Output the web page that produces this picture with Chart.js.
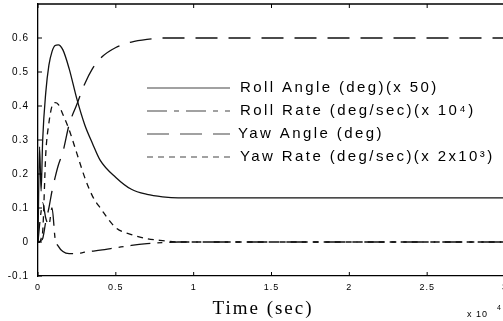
<!DOCTYPE html>
<html lang="en">
<head>
  <meta charset="UTF-8">
  <title>Roll / Yaw response</title>
  <script src="https://cdn.jsdelivr.net/npm/chart.js"></script>
  <style>
    html, body {
      margin: 0;
      padding: 0;
      background: #fff;
      overflow: hidden;
    }
    #wrap {
      width: 503px;
      height: 321px;
      overflow: hidden;
    }
  </style>
</head>
<body>
  <div id="wrap">
    <canvas id="respChart" width="512" height="321"></canvas>
  </div>
  <script>
    // time axis (x 10^4 sec)
    const times = [0, 0.01, 0.02, 0.03, 0.05, 0.07, 0.09, 0.11, 0.13, 0.16, 0.2, 0.25, 0.3, 0.35, 0.4, 0.5, 0.6, 0.7, 0.8, 0.9, 1, 1.5, 2, 2.5, 3];

    const rollAngle = [0, 0.28, 0.15, 0.3, 0.44, 0.52, 0.56, 0.578, 0.58, 0.565, 0.51, 0.42, 0.345, 0.29, 0.24, 0.19, 0.155, 0.14, 0.133, 0.13, 0.13, 0.13, 0.13, 0.13, 0.13];
    const rollRate = [0, 0.05, 0.09, 0.115, 0.07, 0.05, 0.1, 0.01, -0.012, -0.028, -0.034, -0.034, -0.03, -0.027, -0.024, -0.017, -0.01, -0.005, -0.002, 0, 0, 0, 0, 0, 0];
    const yawAngle = [0, 0, 0.005, 0.01, 0.06, 0.1, 0.15, 0.19, 0.225, 0.265, 0.345, 0.405, 0.465, 0.51, 0.54, 0.572, 0.588, 0.596, 0.6, 0.6, 0.6, 0.6, 0.6, 0.6, 0.6];
    const yawRate = [0, 0, 0.01, 0.03, 0.26, 0.35, 0.4, 0.41, 0.405, 0.375, 0.33, 0.26, 0.19, 0.135, 0.1, 0.042, 0.022, 0.01, 0.004, 0, 0, 0, 0, 0, 0];

    const seriesLabels = [
      "Roll Angle (deg)(x 50)",
      "Roll Rate (deg/sec)(x 10\u2074)",
      "Yaw Angle (deg)",
      "Yaw Rate (deg/sec)(x 2x10\u00b3)"
    ];

    const xTicks = [0, 0.5, 1, 1.5, 2, 2.5, 3];
    const yTicks = [-0.1, 0, 0.1, 0.2, 0.3, 0.4, 0.5, 0.6];

    function pts(values) {
      return times.map((t, i) => ({ x: t, y: values[i] }));
    }

    function makeSet(label, values, dash) {
      return {
        label: label,
        data: pts(values),
        borderColor: "#111",
        borderWidth: 1.3,
        borderDash: dash,
        pointRadius: 0,
        fill: false,
        cubicInterpolationMode: "monotone"
      };
    }

    function noPad(scale) {
      scale.paddingTop = 0;
      scale.paddingBottom = 0;
      scale.paddingLeft = 0;
      scale.paddingRight = 0;
    }

    // inward tick marks, top frame, legend, axis title
    const decorations = {
      id: "decorations",
      beforeDraw(chart) {
        chart.ctx.letterSpacing = "1px";
      },
      afterDraw(chart) {
        const ctx = chart.ctx;
        const area = chart.chartArea;
        const xs = chart.scales.x;
        const ys = chart.scales.y;
        ctx.save();
        ctx.strokeStyle = "#000";
        ctx.lineWidth = 1.3;
        ctx.beginPath();
        ctx.moveTo(area.left, area.top);
        ctx.lineTo(area.right + 10, area.top);
        ctx.stroke();

        ctx.lineWidth = 1;
        ctx.beginPath();
        yTicks.forEach(v => {
          const y = ys.getPixelForValue(v);
          ctx.moveTo(area.left, y);
          ctx.lineTo(area.left + 4, y);
        });
        xTicks.forEach(v => {
          const x = xs.getPixelForValue(v);
          ctx.moveTo(x, area.bottom);
          ctx.lineTo(x, area.bottom - 4);
          ctx.moveTo(x, area.top);
          ctx.lineTo(x, area.top + 4);
        });
        ctx.stroke();

        // legend
        const rows = [88, 111, 134, 157];
        ctx.font = "15px 'Liberation Sans', Arial, sans-serif";
        ctx.letterSpacing = "2.4px";
        ctx.textBaseline = "middle";
        ctx.textAlign = "left";
        chart.data.datasets.forEach((ds, i) => {
          const y = rows[i];
          ctx.strokeStyle = "#444";
          ctx.lineWidth = 1.2;
          ctx.setLineDash(ds.borderDash || []);
          ctx.beginPath();
          ctx.moveTo(147, y);
          ctx.lineTo(230, y);
          ctx.stroke();
          ctx.setLineDash([]);
          ctx.fillStyle = "#000";
          ctx.fillText(seriesLabels[i], i === 2 ? 238 : 240, y);
        });

        // axis title
        ctx.font = "19px 'Liberation Serif', 'Times New Roman', serif";
        ctx.letterSpacing = "2px";
        ctx.textAlign = "center";
        ctx.textBaseline = "alphabetic";
        ctx.fillText("Time (sec)", 263, 314);

        // scale factor
        ctx.font = "9px 'Liberation Sans', Arial, sans-serif";
        ctx.letterSpacing = "1px";
        ctx.textAlign = "left";
        ctx.fillText("x 10", 467, 317);
        ctx.font = "7px 'Liberation Sans', Arial, sans-serif";
        ctx.fillText("4", 497, 310);
        ctx.restore();
      }
    };

    new Chart(document.getElementById("respChart"), {
      type: "line",
      data: {
        datasets: [
          makeSet(seriesLabels[0], rollAngle, []),
          makeSet(seriesLabels[1], rollRate, [20, 7, 5, 7]),
          makeSet(seriesLabels[2], yawAngle, [22, 11]),
          makeSet(seriesLabels[3], yawRate, [6, 5])
        ]
      },
      options: {
        responsive: false,
        animation: false,
        layout: { padding: { top: 4, right: 7, left: 0, bottom: 0 } },
        plugins: {
          legend: { display: false },
          tooltip: { enabled: false }
        },
        scales: {
          x: {
            type: "linear",
            min: 0,
            max: 3,
            afterFit(scale) { scale.height = 45; noPad(scale); },
            afterBuildTicks(scale) { scale.ticks = xTicks.map(v => ({ value: v })); },
            grid: { display: false, drawTicks: false },
            border: { display: true, color: "#000", width: 1.3 },
            ticks: {
              color: "#000",
              font: { size: 9, family: "'Liberation Sans', Arial, sans-serif" },
              padding: 6,
              maxRotation: 0,
              callback: v => String(v)
            }
          },
          y: {
            min: -0.1,
            max: 0.7,
            afterFit(scale) { scale.width = 38; noPad(scale); },
            afterBuildTicks(scale) { scale.ticks = yTicks.map(v => ({ value: v })); },
            grid: { display: false, drawTicks: false },
            border: { display: true, color: "#000", width: 1.3 },
            ticks: {
              color: "#000",
              font: { size: 10, family: "'Liberation Sans', Arial, sans-serif" },
              padding: 9,
              callback: v => (Math.abs(v) < 1e-9 ? "0" : v.toFixed(1))
            }
          }
        }
      },
      plugins: [decorations]
    });
  </script>
</body>
</html>
